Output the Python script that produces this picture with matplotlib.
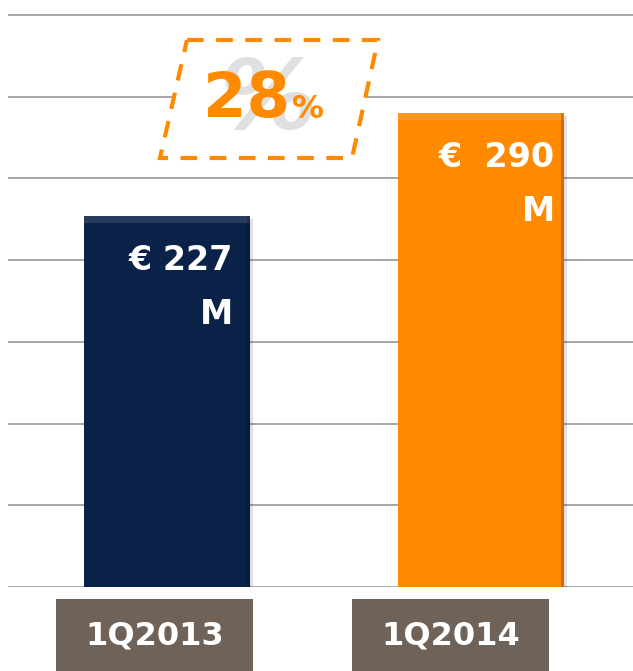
#! /usr/bin/env python3

"""Bar chart comparing quarterly revenue, 1Q2013 vs 1Q2014."""

import matplotlib
matplotlib.use('Agg')
import matplotlib.pyplot as plt
from matplotlib.patches import Polygon, Rectangle

categories = ['1Q2013', '1Q2014']
values = [227, 290]
value_lines = [['\u20ac 227', 'M'], ['\u20ac  290', 'M']]
bar_colors = ['#0B2248', '#FF8A00']
growth_pct = '28'
grid_ticks = [0, 50, 100, 150, 200, 250, 300, 350]

FONT = 'DejaVu Sans'
PX = 572 / 350  # pixels per data unit


def main():
    """Plot and save desired graph."""
    fig = plt.figure(figsize=(6.33, 6.71), dpi=100)
    W, H = 633, 671
    # axes from x=8..633 px, y=0..587 px (top-down)
    ax = fig.add_axes([8 / W, (H - 587) / H, 625 / W, 587 / H])
    ax.set_ylim(0, 587 / PX)
    ax.set_xlim(-0.506, 1.484)

    for t in grid_ticks:
        ax.axhline(t, color='#A6A6A6', lw=1.4, zorder=0)

    xs = list(range(len(categories)))
    bars = ax.bar(xs, values, width=0.529, color=bar_colors, zorder=2,
                  edgecolor='none')

    # simple bevel: lighter strip at the top, darker right edge
    for b in bars:
        x0, w, h = b.get_x(), b.get_width(), b.get_height()
        ax.add_patch(Rectangle((x0, h - 4), w, 4, color='white',
                               alpha=0.12, lw=0, zorder=3))
        ax.add_patch(Rectangle((x0 + w - 0.01, 0), 0.01, h, color='black',
                               alpha=0.2, lw=0, zorder=3))
        ax.add_patch(Rectangle((x0 + w, -2), 0.008, h, color='black',
                               alpha=0.12, lw=0, zorder=1))

    right_off = [66 / 314, 74 / 314]
    for x, v, lines, off in zip(xs, values, value_lines, right_off):
        ax.text(x + off, v - 44 / PX, lines[0], ha='right', va='center',
                color='white', fontsize=24, fontweight='bold',
                family=FONT, zorder=4)
        ax.text(x + off, v - 98 / PX, lines[1], ha='right', va='center',
                color='white', fontsize=24, fontweight='bold',
                family=FONT, zorder=4)

    ax.axis('off')

    # category boxes below the axis, in pixel coordinates
    box_ax = fig.add_axes([0, 0, 1, 1])
    box_ax.set_xlim(0, W)
    box_ax.set_ylim(H, 0)
    box_ax.axis('off')
    for left, cat in zip([56, 352], categories):
        box_ax.add_patch(Rectangle((left, 599), 197, 75,
                                   color='#6E6259', lw=0))
        box_ax.text(left + 98.5, 636, cat, ha='center', va='center',
                    color='white', fontsize=23, fontweight='bold',
                    family=FONT)

    # growth badge: dashed parallelogram with white fill
    para = Polygon([(187, 40), (378, 40), (352, 158), (160, 158)],
                   closed=True, facecolor='white', edgecolor='#FF8A00',
                   lw=3, linestyle=(0, (4, 3)), zorder=5)
    box_ax.add_patch(para)
    # faint watermark "%" sits behind the figure, as in the original
    box_ax.text(268, 103, '%', ha='center', va='center', color='#E0E0E0',
                fontsize=70, fontweight='bold', family=FONT,
                style='italic', zorder=6)
    box_ax.text(290, 100, growth_pct, ha='right', va='center',
                color='#FF8A00', fontsize=45, fontweight='bold',
                family=FONT, zorder=7)
    box_ax.text(292, 109, '%', ha='left', va='center', color='#FF8A00',
                fontsize=23, fontweight='bold', family=FONT, zorder=7)

    fig.savefig('out.png', dpi=100)


if __name__ == "__main__":
    main()
